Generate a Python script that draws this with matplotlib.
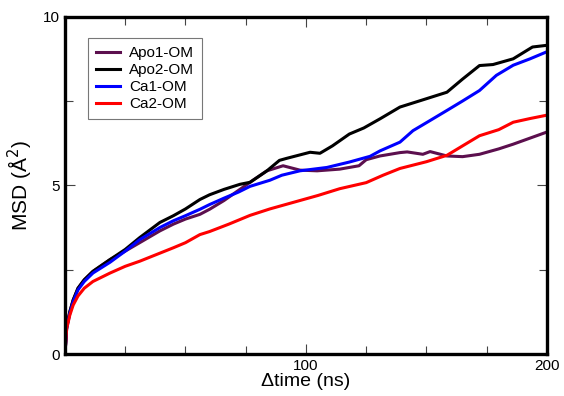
import matplotlib
matplotlib.use("Agg")
import matplotlib.pyplot as plt
import numpy as np

plt.rcParams['font.family'] = ['Liberation Sans', 'DejaVu Sans']

labels = ["Apo1-OM", "Apo2-OM", "Ca1-OM", "Ca2-OM"]
colors = ["#5c0f4e", "#000000", "#0000ff", "#ff0000"]

# Apo1-OM (purple)
t_apo1 = [0, 0.7, 2, 3.4, 5.4, 8, 11.6, 18.7, 25, 31, 39.4, 45, 50, 56, 60, 66, 72.6, 78, 83.8, 90.5, 97.5, 104.6, 114, 122, 125, 130.7, 139, 142, 148.5, 151.5, 158.5, 165, 172, 180, 186, 193, 200]
msd_apo1 = [0, 0.8, 1.25, 1.6, 1.95, 2.2, 2.45, 2.8, 3.05, 3.3, 3.65, 3.85, 4.0, 4.14, 4.29, 4.55, 4.88, 5.15, 5.43, 5.58, 5.45, 5.43, 5.48, 5.58, 5.76, 5.87, 5.97, 5.99, 5.92, 6.0, 5.87, 5.85, 5.92, 6.08, 6.22, 6.4, 6.58]

# Apo2-OM (black)
t_apo2 = [0, 0.7, 2, 3.4, 5.4, 8, 11.6, 18.7, 25, 31, 39.4, 45, 50, 56, 60, 66, 72.6, 76.8, 83.8, 89, 92, 101.7, 105.8, 111, 118, 124, 130.7, 139, 147, 158.5, 165, 172, 177.6, 186, 194, 200]
msd_apo2 = [0, 0.8, 1.25, 1.6, 1.95, 2.2, 2.45, 2.8, 3.1, 3.45, 3.9, 4.1, 4.3, 4.58, 4.72, 4.88, 5.03, 5.09, 5.43, 5.74, 5.8, 5.98, 5.95, 6.17, 6.52, 6.7, 6.97, 7.32, 7.5, 7.76, 8.15, 8.55, 8.58, 8.75, 9.1, 9.15]

# Ca1-OM (blue)
t_ca1 = [0, 0.7, 2, 3.4, 5.4, 8, 11.6, 18.7, 25, 31, 39.4, 45, 50, 56, 60, 66, 72, 76.8, 85, 90, 97.5, 108.7, 118, 126.6, 130.7, 139, 144.4, 151, 158.5, 165, 172, 179, 186, 193, 200]
msd_ca1 = [0, 0.75, 1.2, 1.55, 1.9, 2.15, 2.4, 2.72, 3.05, 3.39, 3.75, 3.95, 4.1, 4.29, 4.43, 4.62, 4.8, 4.97, 5.15, 5.3, 5.43, 5.53, 5.69, 5.86, 6.02, 6.28, 6.62, 6.9, 7.22, 7.5, 7.81, 8.26, 8.56, 8.75, 8.96]

# Ca2-OM (red)
t_ca2 = [0, 0.7, 2, 3.4, 5.4, 8, 11.6, 18.7, 25, 31, 39.4, 45, 50, 56, 60, 68, 76.8, 85, 97.5, 105, 114, 125, 132, 139, 150, 158.5, 165, 172, 180, 186, 193, 200]
msd_ca2 = [0, 0.75, 1.15, 1.45, 1.72, 1.95, 2.15, 2.4, 2.6, 2.75, 2.99, 3.15, 3.3, 3.54, 3.63, 3.85, 4.11, 4.3, 4.55, 4.7, 4.9, 5.08, 5.3, 5.5, 5.7, 5.89, 6.17, 6.47, 6.65, 6.87, 6.98, 7.08]

series = [(t_apo1, msd_apo1), (t_apo2, msd_apo2), (t_ca1, msd_ca1), (t_ca2, msd_ca2)]

fig = plt.figure(figsize=(5.64, 3.96), dpi=100)
ax = fig.add_axes([0.1152, 0.106, 0.8546, 0.852])

for (t, m), lab, c in zip(series, labels, colors):
    ax.plot(t, m, color=c, lw=2.2, label=lab)

ax.set_xlim(0, 200)
ax.set_ylim(0, 10)
ax.set_xticks([100, 200])
ax.set_xticks(np.arange(0, 201, 25), minor=True)
ax.set_yticks([0, 5, 10])
ax.set_yticks([2.5, 7.5], minor=True)
ax.tick_params(which='both', direction='in', top=True, right=True, labelsize=11, color='#444444')
ax.tick_params(which='major', length=7, width=0.8)
ax.tick_params(which='minor', length=6, width=0.8)
for s in ax.spines.values():
    s.set_linewidth(2.4)

ax.set_xlabel("Δtime (ns)", fontsize=14, labelpad=0)
ax.set_ylabel("MSD (Å$^2$)", fontsize=15, labelpad=6)

leg = ax.legend(loc='upper left', bbox_to_anchor=(0.048, 0.936), fontsize=11, frameon=True,
                fancybox=False, handlelength=1.6, handletextpad=0.6, borderpad=0.5,
                labelspacing=0.2, borderaxespad=0)
leg.get_frame().set_edgecolor('#555555')
leg.get_frame().set_linewidth(0.8)

fig.savefig("out.png", dpi=100)
